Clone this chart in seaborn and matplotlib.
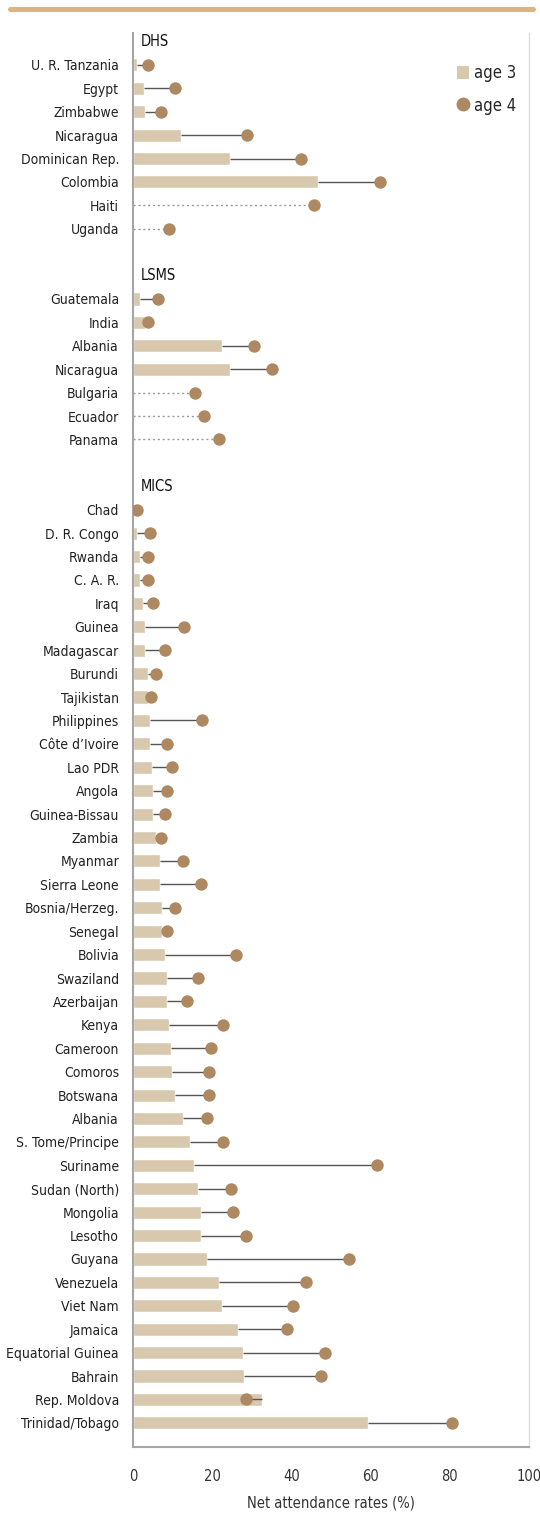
import numpy as np
import pandas as pd
import matplotlib
matplotlib.use("Agg")
import matplotlib.pyplot as plt
from matplotlib.lines import Line2D
from matplotlib.patches import Patch
from matplotlib import font_manager as fm
import seaborn as sns

# ---------------- data ----------------
dhs_countries = ["U. R. Tanzania", "Egypt", "Zimbabwe", "Nicaragua", "Dominican Rep.",
                 "Colombia", "Haiti", "Uganda"]
dhs_age3 = [1.1, 2.9, 3.1, 12.2, 24.6, 46.6, np.nan, np.nan]
dhs_age4 = [3.8, 10.7, 7.0, 28.7, 42.4, 62.4, 45.7, 9.2]

lsms_countries = ["Guatemala", "India", "Albania", "Nicaragua", "Bulgaria", "Ecuador", "Panama"]
lsms_age3 = [1.8, 3.1, 22.4, 24.4, np.nan, np.nan, np.nan]
lsms_age4 = [6.4, 3.9, 30.5, 35.2, 15.7, 17.9, 21.7]

mics_countries = ["Chad", "D. R. Congo", "Rwanda", "C. A. R.", "Iraq", "Guinea", "Madagascar",
                  "Burundi", "Tajikistan", "Philippines", "Côte d\u2019Ivoire", "Lao PDR", "Angola",
                  "Guinea-Bissau", "Zambia", "Myanmar", "Sierra Leone", "Bosnia/Herzeg.",
                  "Senegal", "Bolivia", "Swaziland", "Azerbaijan", "Kenya", "Cameroon",
                  "Comoros", "Botswana", "Albania", "S. Tome/Principe", "Suriname",
                  "Sudan (North)", "Mongolia", "Lesotho", "Guyana", "Venezuela", "Viet Nam",
                  "Jamaica", "Equatorial Guinea", "Bahrain", "Rep. Moldova", "Trinidad/Tobago"]
mics_age3 = [0.3, 0.9, 1.7, 1.8, 2.6, 3.1, 3.1, 3.7, 3.7, 4.2, 4.4, 4.9, 5.1, 5.1, 5.9,
             6.9, 6.9, 7.4, 7.4, 8.2, 8.7, 8.7, 9.2, 9.7, 9.9, 10.7, 12.7, 14.5, 15.5,
             16.5, 17.1, 17.1, 18.8, 21.8, 22.4, 26.6, 27.9, 28.1, 32.5, 59.3]
mics_age4 = [1.0, 4.4, 3.8, 3.9, 5.0, 12.8, 8.2, 5.8, 4.5, 17.3, 8.7, 9.8, 8.5, 8.0, 7.0,
             12.7, 17.2, 10.6, 8.7, 25.9, 16.4, 13.7, 22.8, 19.7, 19.2, 19.1, 18.7, 22.8,
             61.5, 24.8, 25.3, 28.6, 54.5, 43.8, 40.3, 39.0, 48.6, 47.4, 28.5, 80.5]

group_names = ["DHS", "LSMS", "MICS"]
x_ticks = [0, 20, 40, 60, 80, 100]
x_label = "Net attendance rates (%)"
legend_labels = ["age 3", "age 4"]

# ---------------- build table ----------------
groups = [(group_names[0], dhs_countries, dhs_age3, dhs_age4),
          (group_names[1], lsms_countries, lsms_age3, lsms_age4),
          (group_names[2], mics_countries, mics_age3, mics_age4)]
rows = []
headers = []
pos = 0
for gname, cs, a3, a4 in groups:
    headers.append((gname, pos))
    pos += 1
    for c, v3, v4 in zip(cs, a3, a4):
        rows.append(dict(country=c, age3=v3, age4=v4, pos=pos, group=gname))
        pos += 1
    pos += 1  # blank gap row
df = pd.DataFrame(rows)

# ---------------- style ----------------
sns.set_theme(style="white")


def has_font(name):
    try:
        fm.findfont(fm.FontProperties(family=name), fallback_to_default=False)
        return True
    except Exception:
        return False


if has_font("Liberation Sans Narrow"):
    plt.rcParams["font.family"] = ["Liberation Sans Narrow", "DejaVu Sans"]
    FS = 11
else:
    plt.rcParams["font.family"] = ["DejaVu Sans"]
    plt.rcParams["font.stretch"] = "condensed"
    FS = 10

BAR = "#d8c9ae"
DOT = "#ae8860"
LINE = "#555555"
SPINE = "#a6a6a6"
TEXT = "#222222"

fig = plt.figure(figsize=(5.40, 15.13), dpi=100)
ax = fig.add_axes([133 / 540, 1 - 1447 / 1513, (529 - 133) / 540, (1447 - 33) / 1513])

# connectors
solid = df.dropna(subset=["age3"])
ax.hlines(solid["pos"], solid["age3"], solid["age4"], color=LINE, lw=1.0, zorder=2)
dotted = df[df["age3"].isna()]
ax.hlines(dotted["pos"], 0, dotted["age4"], color="#999999", lw=1.0,
          linestyles=(0, (1.5, 2)), zorder=2)

# bars (age 3)
sns.barplot(data=solid, x="age3", y="pos", orient="h", native_scale=True,
            color=BAR, width=0.56, saturation=1, ax=ax, zorder=1)
# dots (age 4)
sns.scatterplot(data=df, x="age4", y="pos", color=DOT, s=80, linewidth=0,
                ax=ax, zorder=3, legend=False)

ax.set_xlim(0, 100)
ax.set_ylim(60.03, -0.36)
ax.set_xticks(x_ticks)
ax.set_xticklabels([str(t) for t in x_ticks], fontsize=FS + 0.5, color="#333333")
ax.set_yticks(df["pos"])
ax.set_yticklabels(df["country"], fontsize=FS, color=TEXT)
ax.tick_params(axis="y", length=0, pad=10)
ax.tick_params(axis="x", length=8, width=1.2, color=SPINE, direction="out", pad=8)
ax.set_xlabel(x_label, fontsize=FS + 0.5, color="#333333", labelpad=8)
ax.set_ylabel("")

for gname, p in headers:
    ax.text(2, p, gname, ha="left", va="center", fontsize=FS + 0.5, color="#111111")

for s in ["left", "bottom"]:
    ax.spines[s].set_color(SPINE)
    ax.spines[s].set_linewidth(1.5)
ax.spines["right"].set_color("#dddddd")
ax.spines["right"].set_linewidth(1.0)
ax.spines["top"].set_visible(False)

handles = [Patch(facecolor=BAR, edgecolor="none"),
           Line2D([], [], marker="o", color=DOT, linestyle="none", markersize=9)]
ax.legend(handles, legend_labels, loc="upper right", bbox_to_anchor=(0.985, 0.9825),
          frameon=False, fontsize=FS + 2, handlelength=0.7, handleheight=0.8,
          handletextpad=0.3, labelspacing=0.85, borderaxespad=0)

# top decorative rule
fig.add_artist(Line2D([10 / 540, 533 / 540], [1 - 9 / 1513, 1 - 9 / 1513],
                      color="#dfb27e", lw=3.6, transform=fig.transFigure))

fig.savefig("out.png", dpi=100)
